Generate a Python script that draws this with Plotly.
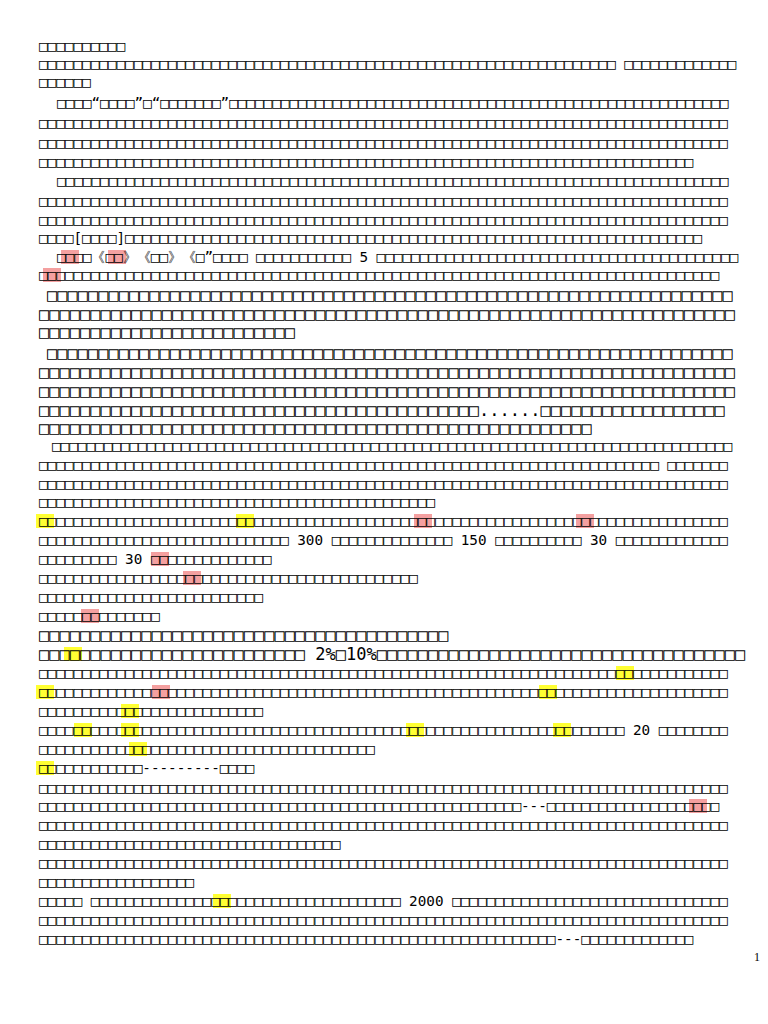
import plotly.graph_objects as go

# page text lines: y position, left x, style (s=small, b=large bold), segments
# an int segment is a run of unreadable glyph boxes, a str segment is literal text
line_y = [46, 64, 82, 103, 123, 143, 162, 181, 201, 220, 238, 257, 275,
          295, 314, 332, 353, 372, 391, 410, 428,
          446, 465, 484, 502, 521, 540, 559, 578, 597, 616,
          635, 654, 673, 692, 711, 730, 749, 768, 788, 806, 825, 844, 863, 882,
          901, 920, 939]
line_x = [37, 37, 37, 55, 37, 37, 37, 55, 37, 37, 37, 55, 37,
          45, 37, 37, 45, 37, 37, 37, 37,
          50, 37, 37, 37, 37, 37, 37, 37, 37, 37,
          37, 37, 37, 37, 37, 37, 37, 37, 37, 37, 37, 37, 37, 37,
          37, 37, 37]
line_style = ["s"] * 13 + ["b"] * 8 + ["s"] * 10 + ["b", "b"] + ["s"] * 15
line_segs = [
    [10], [67, " ", 13], [6],
    [4, "“", 4, "”", 1, "“", 7, "”", 58],
    [80], [80], [76],
    [78], [80], [80], [4, "[", 4, "]", 67],
    [4, "《", 2, "》《", 2, "》《", 1, "”", 4, " ", 11, " 5 ", 42],
    [79],
    [67], [68], [25],
    [67], [68], [68], [43, "......", 18], [54],
    [79], [72, " ", 7], [80], [46],
    [80], [29, " 300 ", 14, " 150 ", 10, " 30 ", 13], [9, " 30 ", 14],
    [44], [26], [14],
    [40], [26, " 2%", 1, "10%", 36],
    [80], [80], [26], [68, " 20 ", 8], [39],
    [12, "---------", 4],
    [80], [56, "---", 20], [80], [35], [80], [18],
    [5, " ", 36, " 2000 ", 32], [80], [60, "---", 13],
]

# highlighted words: centre x, line y, colour
hl_x = [70, 117, 52, 45, 245, 423, 585, 160, 192, 90, 73, 625, 45, 161, 548,
        130, 83, 130, 415, 562, 138, 45, 698, 222]
hl_y = [257, 257, 275, 521, 521, 521, 521, 559, 578, 616, 654, 673, 692, 692, 692,
        711, 730, 730, 730, 730, 749, 768, 806, 901]
hl_c = ["p", "p", "p", "y", "y", "p", "p", "p", "p", "p", "y", "y", "y", "p", "y",
        "y", "y", "y", "y", "y", "y", "y", "p", "y"]

page_no = "1"

colors = {"y": "#ffff33", "p": "#f4a0a0"}

# the page body has an 8px margin, so the view is offset by it
off = 8

fig = go.Figure()
fig.add_trace(go.Scatter(x=[0, 768], y=[0, 1024], mode="markers",
                         marker=dict(opacity=0), hoverinfo="skip", showlegend=False))

for y, x, st, segs in zip(line_y, line_x, line_style, line_segs):
    txt = "".join("□" * s if isinstance(s, int) else s for s in segs)
    fig.add_annotation(x=x, y=y, text=txt, showarrow=False, xanchor="left", yanchor="middle",
                       font=dict(family="DejaVu Sans Mono", size=14.3 if st == "s" else 17,
                                 color="black"))

for x, y, c in zip(hl_x, hl_y, hl_c):
    fig.add_shape(type="rect", x0=x - 9, x1=x + 9, y0=y - 7, y1=y + 7,
                  fillcolor=colors[c], line_width=0, layer="below")

fig.add_annotation(x=757, y=957, text=page_no, showarrow=False, xanchor="center",
                   font=dict(family="Liberation Serif", size=12, color="black"))

fig.update_layout(
    width=768, height=1024, margin=dict(l=0, r=0, t=0, b=0),
    plot_bgcolor="white", paper_bgcolor="white",
    xaxis=dict(range=[off, 768 + off], visible=False, fixedrange=True),
    yaxis=dict(range=[1024 + off, off], visible=False, fixedrange=True),
)
fig.write_html("out.html")
